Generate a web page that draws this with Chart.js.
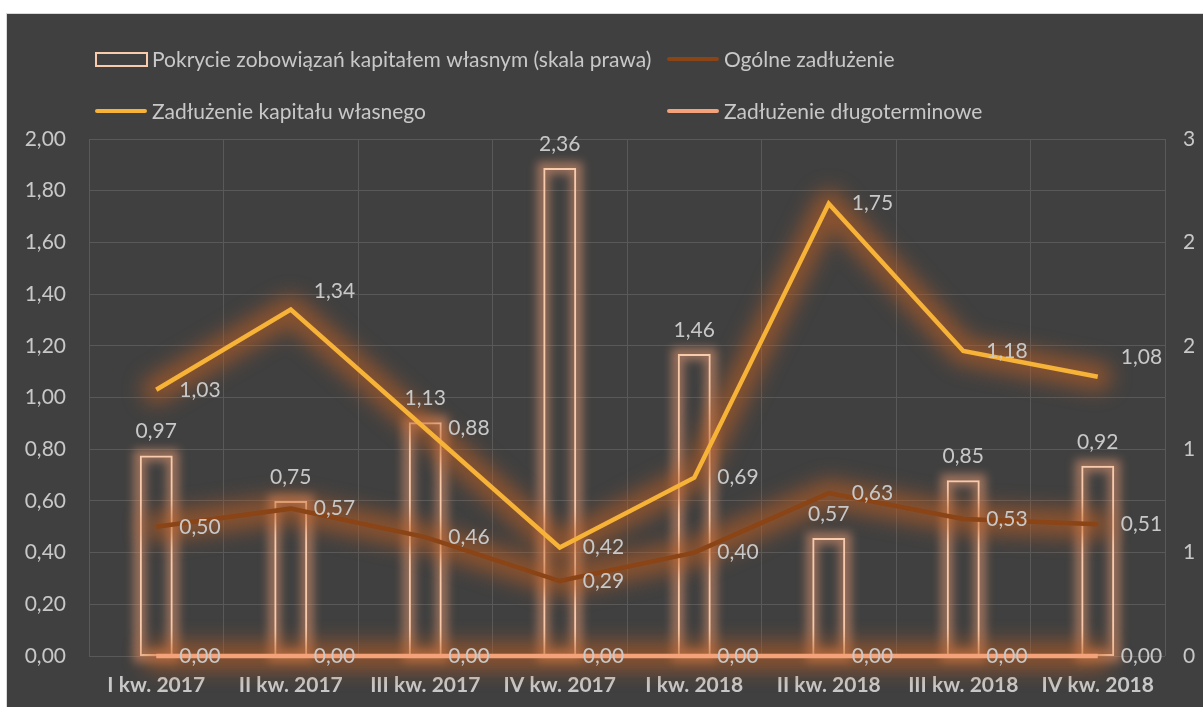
<!DOCTYPE html>
<html>
<head>
<meta charset="utf-8">
<script src="https://cdn.jsdelivr.net/npm/chart.js@4.4.1/dist/chart.umd.min.js"></script>
<style>
  html, body { margin: 0; padding: 0; background: #ffffff; width: 1203px; height: 707px; overflow: hidden; }
  #frame { position: absolute; left: 6px; top: 13px; width: 1197px; height: 694px; border-top: 1px solid #d9d9d9; border-left: 1px solid #d9d9d9; background: #404040; }
  #c { position: absolute; left: 0; top: 0; }
</style>
</head>
<body>
<div id="frame"><canvas id="c" width="1196" height="693"></canvas></div>
<script>
// ---- data ----
const categories = ['I kw. 2017', 'II kw. 2017', 'III kw. 2017', 'IV kw. 2017', 'I kw. 2018', 'II kw. 2018', 'III kw. 2018', 'IV kw. 2018'];
const pokrycie = [0.97, 0.75, 1.13, 2.36, 1.46, 0.57, 0.85, 0.92];          // right scale
const ogolneZadluzenie = [0.50, 0.57, 0.46, 0.29, 0.40, 0.63, 0.53, 0.51];
const zadluzenieKapitalu = [1.03, 1.34, 0.88, 0.42, 0.69, 1.75, 1.18, 1.08];
const zadluzenieDlugoterminowe = [0.00, 0.00, 0.00, 0.00, 0.00, 0.00, 0.00, 0.00];
const seriesNames = ['Pokrycie zobowiązań kapitałem własnym (skala prawa)', 'Ogólne zadłużenie', 'Zadłużenie kapitału własnego', 'Zadłużenie długoterminowe'];

const FONT = 'Lato, "Open Sans", sans-serif';
const LABEL_COLOR = '#c8c8c8';
const fmt = v => v.toFixed(2).replace('.', ',');

// glow plugin (uses element positions computed by the library)
const glowPlugin = {
  id: 'glow',
  beforeDatasetDraw(chart, args) {
    const ds = chart.data.datasets[args.index];
    const ctx = chart.ctx;
    const pts = args.meta.data;
    ctx.save();
    if (ds.type === 'line') {
      ctx.filter = 'blur(10px)';
      ctx.strokeStyle = 'rgba(190,95,35,0.6)';
      ctx.lineWidth = 28;
      ctx.lineJoin = 'round';
      ctx.lineCap = 'round';
      ctx.beginPath();
      pts.forEach((el, j) => { j ? ctx.lineTo(el.x, el.y) : ctx.moveTo(el.x, el.y); });
      ctx.stroke();
    } else {
      ctx.filter = 'blur(5px)';
      ctx.strokeStyle = 'rgba(235,155,115,0.55)';
      ctx.lineWidth = 12;
      pts.forEach(el => {
        const p = el.getProps(['x', 'y', 'base', 'width'], true);
        ctx.strokeRect(p.x - p.width / 2, p.y, p.width, p.base - p.y);
      });
    }
    ctx.restore();
  }
};

// data labels plugin
const labelsPlugin = {
  id: 'valueLabels',
  afterDatasetsDraw(chart) {
    const ctx = chart.ctx;
    ctx.save();
    ctx.font = '21px ' + FONT;
    ctx.fillStyle = LABEL_COLOR;
    ctx.textBaseline = 'middle';
    chart.data.datasets.forEach((ds, i) => {
      const meta = chart.getDatasetMeta(i);
      const adj = ds.labelAdjust || {};
      meta.data.forEach((el, j) => {
        const txt = fmt(ds.data[j]);
        const a = adj[j] || {};
        if (ds.labelPos === 'top') {
          ctx.textAlign = 'center';
          ctx.fillText(txt, el.x, el.y - 24);
        } else {
          ctx.textAlign = 'left';
          ctx.fillText(txt, el.x + 23 + (a.dx || 0), el.y + (a.dy || 0));
        }
      });
    });
    ctx.restore();
  }
};

// custom legend plugin (two rows, two columns)
const legendPlugin = {
  id: 'customLegend',
  afterDraw(chart) {
    const ctx = chart.ctx;
    const ds = chart.data.datasets;
    const slots = [
      { i: 0, x: 88, y: 45 },
      { i: 1, x: 660, y: 45 },
      { i: 2, x: 88, y: 97 },
      { i: 3, x: 660, y: 97 }
    ];
    ctx.save();
    ctx.font = '21px ' + FONT;
    ctx.textBaseline = 'middle';
    ctx.textAlign = 'left';
    slots.forEach(s => {
      const d = ds[s.i];
      if (d.type === 'line') {
        ctx.strokeStyle = d.borderColor;
        ctx.lineWidth = 4;
        ctx.lineCap = 'round';
        ctx.beginPath();
        ctx.moveTo(s.x + 2, s.y);
        ctx.lineTo(s.x + 50, s.y);
        ctx.stroke();
      } else {
        ctx.strokeStyle = d.borderColor;
        ctx.lineWidth = 2;
        ctx.strokeRect(s.x + 1, s.y - 6, 51, 13);
      }
      ctx.fillStyle = LABEL_COLOR;
      ctx.fillText(d.label, s.x + 57, s.y + 1);
    });
    ctx.restore();
  }
};

const chart = new Chart(document.getElementById('c'), {
  type: 'bar',
  data: {
    labels: categories,
    datasets: [
      {
        type: 'bar', label: seriesNames[0], data: pokrycie, yAxisID: 'y1',
        backgroundColor: 'rgba(0,0,0,0)', borderColor: '#F8CBAD', borderWidth: 2, borderSkipped: false,
        barPercentage: 0.245, categoryPercentage: 1, order: 4, labelPos: 'top'
      },
      {
        type: 'line', label: seriesNames[1], data: ogolneZadluzenie, yAxisID: 'y',
        borderColor: '#8A4416', backgroundColor: '#8A4416', borderWidth: 4.5, pointRadius: 0,
        tension: 0, clip: false, order: 3, labelPos: 'right'
      },
      {
        type: 'line', label: seriesNames[2], data: zadluzenieKapitalu, yAxisID: 'y',
        borderColor: '#F6B338', backgroundColor: '#F6B338', borderWidth: 4.5, pointRadius: 0,
        tension: 0, clip: false, order: 2, labelPos: 'right',
        labelAdjust: { 1: { dy: -18 }, 7: { dy: -20 } }
      },
      {
        type: 'line', label: seriesNames[3], data: zadluzenieDlugoterminowe, yAxisID: 'y',
        borderColor: '#F3A27A', backgroundColor: '#F3A27A', borderWidth: 4.5, pointRadius: 0,
        tension: 0, clip: false, order: 1, labelPos: 'right'
      }
    ]
  },
  options: {
    responsive: false,
    animation: false,
    devicePixelRatio: 1,
    layout: { padding: { top: 125, left: 0, right: 0, bottom: 0 } },
    plugins: { legend: { display: false }, tooltip: { enabled: false } },
    scales: {
      x: {
        grid: { color: '#595959', lineWidth: 1, drawTicks: false, offset: true },
        border: { display: false },
        ticks: { color: '#c8c8c8', font: { family: FONT, size: 21, weight: 'bold' }, padding: 17, maxRotation: 0, autoSkip: false },
        afterFit(s) { s.height = 51; }
      },
      y: {
        position: 'left', min: 0, max: 2, 
        ticks: { stepSize: 0.2, color: '#c8c8c8', font: { family: FONT, size: 21 }, padding: 23, callback: v => fmt(v) },
        grid: { color: '#595959', lineWidth: 1, drawTicks: false },
        border: { display: false },
        afterFit(s) { s.width = 82; }
      },
      y1: {
        position: 'right', min: 0, max: 2.5,
        ticks: { stepSize: 0.5, color: '#c8c8c8', font: { family: FONT, size: 21 }, padding: 18, callback: v => String(Math.round(v)) },
        grid: { display: false, drawTicks: false },
        border: { display: false },
        afterFit(s) { s.width = 38; }
      }
    }
  },
  plugins: [glowPlugin, labelsPlugin, legendPlugin]
});
</script>
</body>
</html>
